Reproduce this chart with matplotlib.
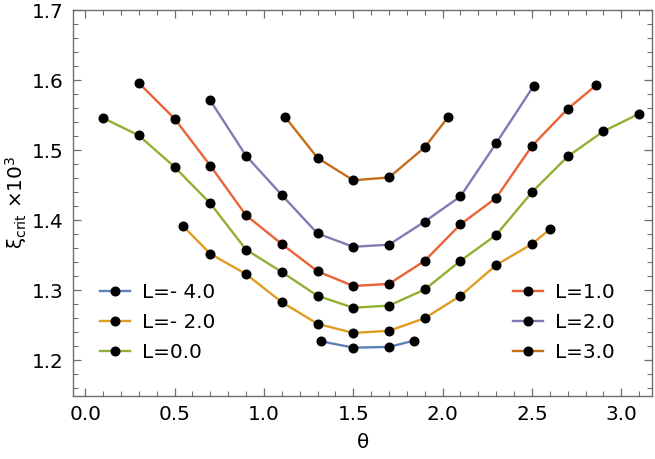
import matplotlib
matplotlib.use("Agg")
import matplotlib.pyplot as plt
from matplotlib.ticker import MultipleLocator

# Data
theta_m4 = [1.32, 1.5, 1.7, 1.84]
xi_m4 = [1.227, 1.218, 1.219, 1.228]

theta_m2 = [0.55, 0.7, 0.9, 1.1, 1.3, 1.5, 1.7, 1.9, 2.1, 2.3, 2.5, 2.6]
xi_m2 = [1.391, 1.352, 1.323, 1.283, 1.252, 1.239, 1.242, 1.260, 1.292, 1.336, 1.366, 1.387]

theta_0 = [0.1, 0.3, 0.5, 0.7, 0.9, 1.1, 1.3, 1.5, 1.7, 1.9, 2.1, 2.3, 2.5, 2.7, 2.9, 3.1]
xi_0 = [1.546, 1.521, 1.476, 1.424, 1.358, 1.326, 1.292, 1.275, 1.278, 1.301, 1.342, 1.379,
        1.440, 1.491, 1.527, 1.552]

theta_1 = [0.3, 0.5, 0.7, 0.9, 1.1, 1.3, 1.5, 1.7, 1.9, 2.1, 2.3, 2.5, 2.7, 2.86]
xi_1 = [1.596, 1.545, 1.478, 1.407, 1.366, 1.327, 1.306, 1.309, 1.342, 1.394, 1.432, 1.506,
        1.559, 1.593]

theta_2 = [0.7, 0.9, 1.1, 1.3, 1.5, 1.7, 1.9, 2.1, 2.3, 2.51]
xi_2 = [1.571, 1.492, 1.436, 1.381, 1.362, 1.365, 1.398, 1.434, 1.510, 1.592]

theta_3 = [1.12, 1.3, 1.5, 1.7, 1.9, 2.03]
xi_3 = [1.547, 1.489, 1.457, 1.461, 1.504, 1.547]

labels = ["L=- 4.0", "L=- 2.0", "L=0.0", "L=1.0", "L=2.0", "L=3.0"]
colors = ["#5E81B5", "#E19C24", "#8FB032", "#EB6235", "#8778B3", "#C56E1A"]

series = [(theta_m4, xi_m4), (theta_m2, xi_m2), (theta_0, xi_0),
          (theta_1, xi_1), (theta_2, xi_2), (theta_3, xi_3)]

fig = plt.figure(figsize=(6.55, 4.59), dpi=100)
ax = fig.add_axes([0.112, 0.138, 0.883, 0.840])

handles = []
for (x, y), c, lab in zip(series, colors, labels):
    h, = ax.plot(x, y, color=c, lw=1.7, marker='o', markersize=6.2,
                 markerfacecolor='black', markeredgecolor='black', label=lab)
    handles.append(h)

ax.set_xlim(-0.066, 3.17)
ax.set_ylim(1.1494, 1.7)
ax.xaxis.set_major_locator(MultipleLocator(0.5))
ax.xaxis.set_minor_locator(MultipleLocator(0.1))
ax.yaxis.set_major_locator(MultipleLocator(0.1))
ax.yaxis.set_minor_locator(MultipleLocator(0.02))
ax.xaxis.set_major_formatter(plt.FormatStrFormatter('%.1f'))
ax.yaxis.set_major_formatter(plt.FormatStrFormatter('%.1f'))

spine_col = '#6e6e6e'
for s in ax.spines.values():
    s.set_color(spine_col)
    s.set_linewidth(1.0)
ax.tick_params(which='both', direction='in', top=True, right=True, color=spine_col)
ax.tick_params(which='major', length=6, width=0.9, labelsize=14.4, pad=7)
ax.tick_params(which='minor', length=3.5, width=0.8)

ax.set_xlabel('θ', fontsize=14.4, labelpad=6)
ax.set_ylabel('ξ$_{\\mathregular{crit}}$ ×10$^{3}$', fontsize=14.4, labelpad=2)

leg_kw = dict(frameon=False, fontsize=14.4, handlelength=1.5, handletextpad=0.6,
              labelspacing=0.55, borderpad=0, borderaxespad=0, numpoints=1,
              loc='center left', bbox_transform=fig.transFigure)
leg1 = ax.legend(handles=handles[:3], bbox_to_anchor=(100 / 655, 1 - 322 / 459), **leg_kw)
ax.add_artist(leg1)
ax.legend(handles=handles[3:], bbox_to_anchor=(513 / 655, 1 - 322 / 459), **leg_kw)

fig.savefig('out.png', dpi=100)
